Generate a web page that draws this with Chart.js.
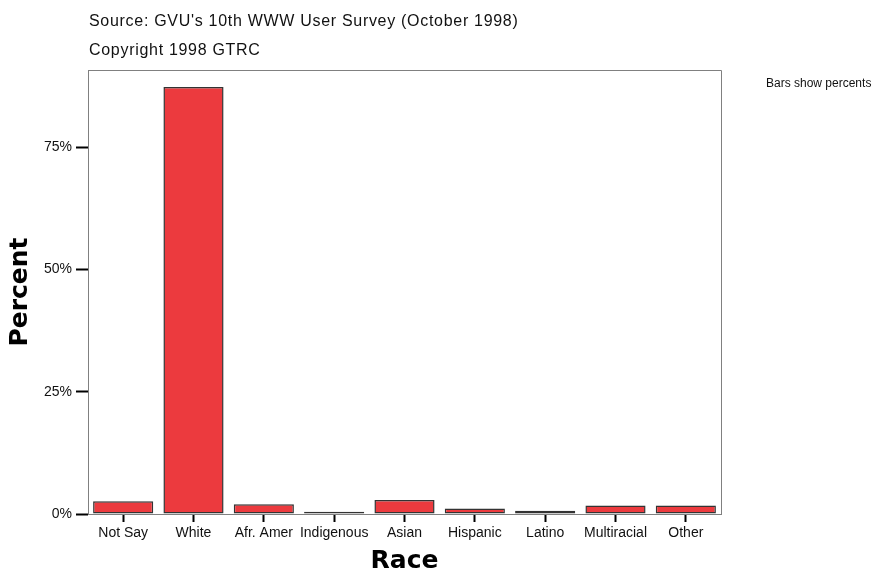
<!DOCTYPE html>
<html>
<head>
<meta charset="utf-8">
<script src="https://cdn.jsdelivr.net/npm/chart.js@4/dist/chart.umd.min.js"></script>
<style>
  html, body { margin: 0; padding: 0; background: #fff; }
  #wrap { width: 877px; height: 577px; position: relative; }
</style>
</head>
<body>
<div id="wrap"><canvas id="c"></canvas></div>
<script>
const categories = ["Not Say", "White", "Afr. Amer", "Indigenous", "Asian", "Hispanic", "Latino", "Multiracial", "Other"];
const percents = [2.6, 87.3, 2.0, 0.45, 2.85, 1.15, 0.65, 1.75, 1.75];
const yTicks = [0, 25, 50, 75];
const headerLines = ["Source: GVU's 10th WWW User Survey (October 1998)", "Copyright 1998 GTRC"];
const noteText = "Bars show percents";
const xTitle = "Race";
const yTitle = "Percent";

const framePlugin = {
  id: 'frame',
  afterDraw(chart) {
    const {ctx, chartArea: a} = chart;
    ctx.save();
    ctx.strokeStyle = '#808080';
    ctx.lineWidth = 1;
    ctx.beginPath();
    ctx.moveTo(a.left + 0.5, a.top + 0.5);
    ctx.lineTo(a.right + 0.5, a.top + 0.5);
    ctx.lineTo(a.right + 0.5, a.bottom);
    ctx.stroke();
    ctx.fillStyle = '#111';
    ctx.textBaseline = 'alphabetic';
    ctx.textAlign = 'left';
    ctx.font = '16px "Liberation Sans", Arial, sans-serif';
    if ('letterSpacing' in ctx) ctx.letterSpacing = '0.7px';
    ctx.fillText(headerLines[0], a.left + 1, 26);
    ctx.fillText(headerLines[1], a.left + 1, 55);
    if ('letterSpacing' in ctx) ctx.letterSpacing = '0px';
    ctx.font = '12px "Liberation Sans", Arial, sans-serif';
    ctx.fillText(noteText, 766, 87);
    ctx.restore();
  }
};

new Chart(document.getElementById('c'), {
  type: 'bar',
  data: {
    labels: categories,
    datasets: [{
      data: percents,
      backgroundColor: '#EC3A3E',
      borderColor: '#333333',
      borderWidth: 1.5,
      borderSkipped: false,
      barPercentage: 0.855,
      categoryPercentage: 1.0
    }]
  },
  options: {
    responsive: true,
    maintainAspectRatio: false,
    animation: false,
    layout: { padding: { top: 70, right: 156, left: 0, bottom: 0 } },
    plugins: { legend: { display: false }, tooltip: { enabled: false } },
    scales: {
      x: {
        afterFit(s) { s.height = 63; },
        grid: { display: true, drawOnChartArea: false, drawTicks: true, tickLength: 8, tickWidth: 2, tickColor: '#000', offset: false },
        border: { display: true, color: '#808080', width: 1 },
        ticks: { color: '#111', padding: 3, font: { family: '"Liberation Sans", Arial, sans-serif', size: 14 }, maxRotation: 0, autoSkip: false },
        title: { display: true, text: xTitle, color: '#000', padding: { top: 0, bottom: 1 }, font: { family: '"DejaVu Sans", sans-serif', size: 25, weight: 'bold' } }
      },
      y: {
        min: 0,
        max: 90.8,
        afterFit(s) { s.width = 88; },
        afterBuildTicks(s) { s.ticks = yTicks.map(v => ({ value: v })); },
        grid: { display: true, drawOnChartArea: false, drawTicks: true, tickLength: 12, tickWidth: 2, tickColor: '#000' },
        border: { display: true, color: '#808080', width: 1 },
        ticks: { color: '#111', padding: 4, font: { family: '"Liberation Sans", Arial, sans-serif', size: 14 }, callback: v => v + '%' },
        title: { display: true, text: yTitle, color: '#000', padding: { top: 5, bottom: 0 }, font: { family: '"DejaVu Sans", sans-serif', size: 25, weight: 'bold' } }
      }
    }
  },
  plugins: [framePlugin]
});
</script>
</body>
</html>
